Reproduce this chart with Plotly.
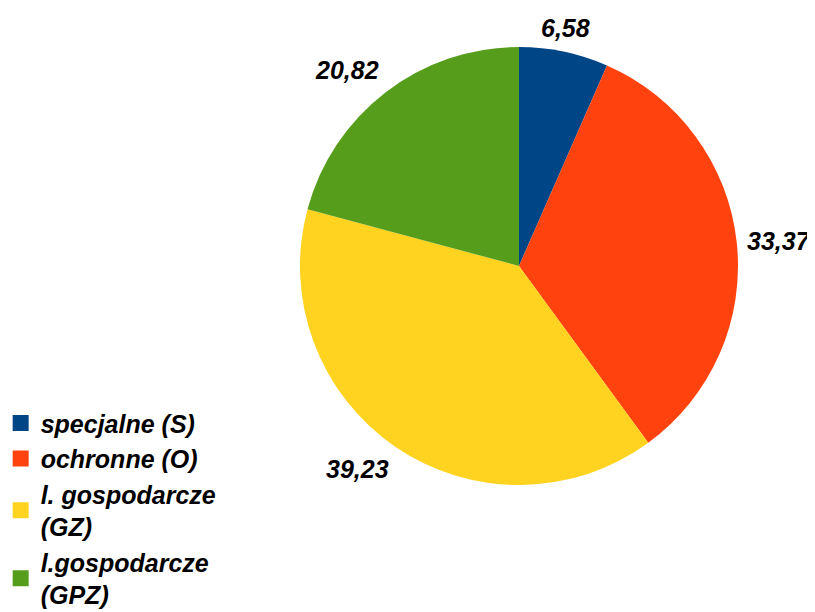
import math
import plotly.graph_objects as go

categories = ["specjalne (S)", "ochronne (O)", "l. gospodarcze<br>(GZ)", "l.gospodarcze<br>(GPZ)"]
values = [6.58, 33.37, 39.23, 20.82]
value_labels = [f"{v:.2f}".replace(".", ",") for v in values]
colors = ["#004586", "#FF420E", "#FFD320", "#579D1C"]

FONT = "Liberation Sans, Arial, sans-serif"
W, H = 815, 612
PAGE_OFF = 8                   # default body margin of the html page
CX, CY, R = 519 - PAGE_OFF, 266 - PAGE_OFF, 219
LABEL_R = R + 8

fig = go.Figure(go.Pie(
    labels=categories, values=values, textinfo="none",
    marker=dict(colors=colors, line=dict(width=0)),
    sort=False, direction="clockwise", rotation=0,
    domain=dict(x=[(CX - R) / W, (CX + R) / W], y=[1 - (CY + R) / H, 1 - (CY - R) / H]),
    showlegend=False, hoverinfo="label+value",
))

# legend entries with bigger square swatches
for name, col in zip(categories, colors):
    fig.add_trace(go.Scatter(
        x=[None], y=[None], mode="markers", name=name,
        marker=dict(symbol="square", size=20, color=col),
    ))

# value labels outside the slices, placed along each slice bisector
total = sum(values)
cum = 0
for v, txt in zip(values, value_labels):
    ang = math.radians((cum + v / 2) / total * 360)
    cum += v
    s, c = math.sin(ang), math.cos(ang)
    px, py = CX + s * LABEL_R, CY - c * LABEL_R
    xa = "center" if abs(s) < 0.3 else ("left" if s > 0 else "right")
    ya = "middle" if abs(c) < 0.3 else ("bottom" if c > 0 else "top")
    fig.add_annotation(
        x=px / W, y=1 - py / H, xref="paper", yref="paper",
        text=txt, showarrow=False, xanchor=xa, yanchor=ya,
        font=dict(family=FONT, size=25, color="#000000", weight="bold", style="italic"),
    )

fig.update_layout(
    width=W, height=H,
    paper_bgcolor="white", plot_bgcolor="white",
    margin=dict(l=0, r=0, t=0, b=0, autoexpand=False),
    xaxis=dict(visible=False), yaxis=dict(visible=False),
    showlegend=True,
    legend=dict(
        x=-0.009, y=0.359, xanchor="left", yanchor="top",
        font=dict(family=FONT, size=25, color="#000000", weight="bold", style="italic"),
        bgcolor="rgba(0,0,0,0)", tracegroupgap=0, itemsizing="trace",
    ),
)

fig.write_html("out.html")
